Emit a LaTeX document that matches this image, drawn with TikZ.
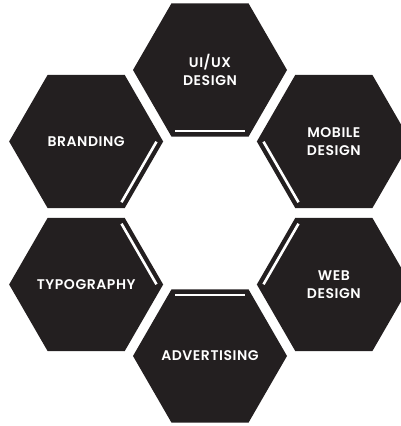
\documentclass[tikz,border=0pt]{standalone}
\usepackage{fontspec}
\newfontfamily\hexfont{Poppins SemiBold}[LetterSpace=4]
\usetikzlibrary{shapes.geometric,calc}

\definecolor{hexFill}{HTML}{231F20}

\begin{document}
\begin{tikzpicture}[x=1pt, y=1pt]
            \tikzstyle{hexStyle} = [regular polygon, regular polygon sides=6,
                minimum size=154pt, inner sep=0pt, fill=hexFill]
            \tikzstyle{hexLabel} = [text=white, align=center, inner sep=0pt,
                font=\hexfont\fontsize{14}{17.5}\selectfont]
            \tikzstyle{whiteLine} = [draw=white, line width=2.6pt]
            \useasboundingbox (0,0) rectangle (401,426);
            \coordinate (mid) at (210,213);
            \node[hexStyle] (1) at ($(mid)+(90:143)$)  {};
            \node[hexStyle] (2) at ($(mid)+(150:143)$) {};
            \node[hexStyle] (3) at ($(mid)+(30:143)$)  {};
            \node[hexStyle] (4) at ($(mid)+(210:143)$) {};
            \node[hexStyle] (5) at ($(mid)+(330:143)$) {};
            \node[hexStyle] (6) at ($(mid)+(270:143)$) {};
            \node[hexLabel] (1t) at (1) {UI/UX\\DESIGN};
            \node[hexLabel] (2t) at (2) {BRANDING};
            \node[hexLabel] (3t) at (3) {MOBILE\\DESIGN};
            \node[hexLabel] (4t) at (4) {TYPOGRAPHY};
            \node[hexLabel] (5t) at (5) {WEB\\DESIGN};
            \node[hexLabel] (6t) at (6) {ADVERTISING};
            \foreach \n/\a in {1/90,2/150,3/30,4/210,5/330,6/270}
                \draw[whiteLine] ($(\n)+(\a+180:61)+(\a+90:35)$)
                    -- ($(\n)+(\a+180:61)+(\a-90:35)$);
\end{tikzpicture}
\end{document}
